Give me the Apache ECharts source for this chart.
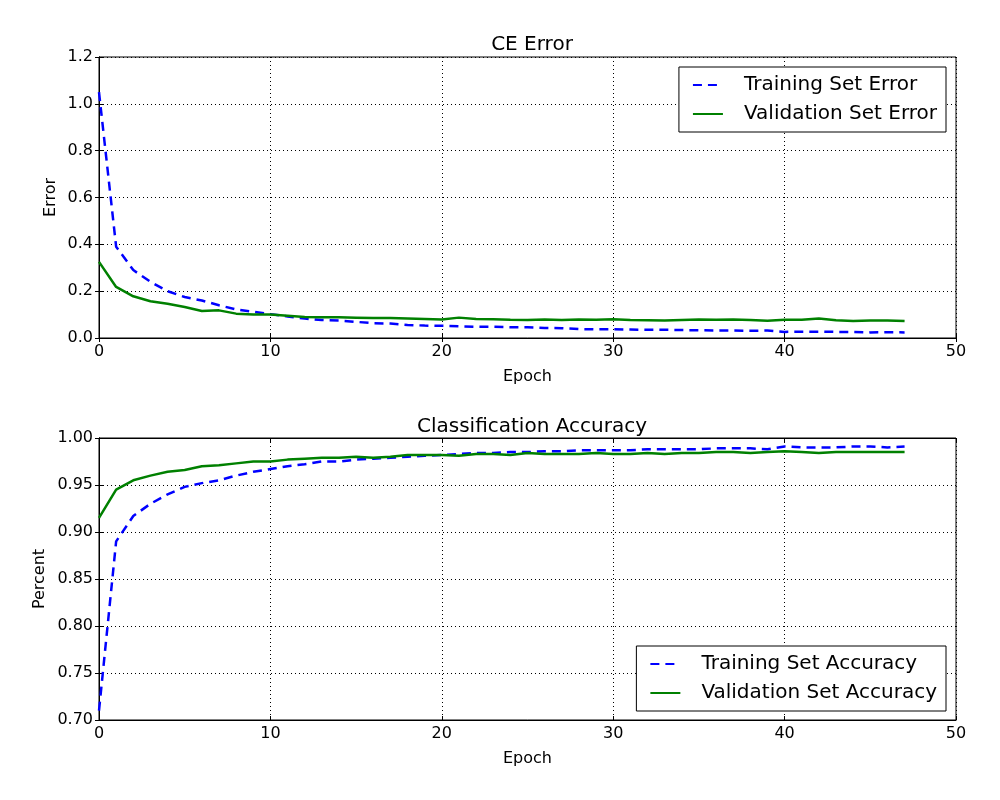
<!DOCTYPE html>
<html>
<head>
<meta charset="utf-8">
<script src="https://cdn.jsdelivr.net/npm/echarts@6/dist/echarts.min.js"></script>
<style>
  html, body { margin: 0; padding: 0; background: #fff; }
  #container { width: 1000px; height: 800px; }
</style>
</head>
<body>
<div id="container"></div>
<script>
// data, one value per epoch (0..47)
var trainError = [
    1.05, 0.39, 0.29, 0.24, 0.20, 0.175, 0.16, 0.14, 0.122, 0.112,
    0.102, 0.092, 0.083, 0.077, 0.075, 0.069, 0.063, 0.062, 0.056, 0.053,
    0.052, 0.050, 0.048, 0.048, 0.046, 0.046, 0.043, 0.042, 0.038, 0.037,
    0.037, 0.036, 0.035, 0.035, 0.034, 0.033, 0.032, 0.032, 0.031, 0.032,
    0.026, 0.027, 0.027, 0.026, 0.026, 0.024, 0.025, 0.024
];
var validError = [
    0.325, 0.218, 0.178, 0.157, 0.146, 0.132, 0.115, 0.118, 0.104, 0.100,
    0.100, 0.095, 0.090, 0.089, 0.089, 0.087, 0.085, 0.085, 0.083, 0.081,
    0.079, 0.087, 0.081, 0.080, 0.078, 0.077, 0.079, 0.077, 0.079, 0.078,
    0.080, 0.077, 0.076, 0.075, 0.077, 0.079, 0.078, 0.079, 0.077, 0.074,
    0.078, 0.078, 0.083, 0.076, 0.073, 0.075, 0.075, 0.073
];
var trainAcc = [
    0.71, 0.89, 0.917, 0.930, 0.940, 0.948, 0.952, 0.955, 0.960, 0.964,
    0.967, 0.970, 0.972, 0.975, 0.975, 0.977, 0.978, 0.979, 0.980, 0.981,
    0.982, 0.983, 0.984, 0.984, 0.985, 0.985, 0.986, 0.986, 0.987, 0.987,
    0.987, 0.987, 0.988, 0.988, 0.988, 0.988, 0.989, 0.989, 0.989, 0.988,
    0.991, 0.990, 0.990, 0.990, 0.991, 0.991, 0.990, 0.991
];
var validAcc = [
    0.915, 0.945, 0.955, 0.960, 0.964, 0.966, 0.970, 0.971, 0.973, 0.975,
    0.975, 0.977, 0.978, 0.979, 0.979, 0.980, 0.979, 0.980, 0.982, 0.982,
    0.982, 0.981, 0.983, 0.983, 0.982, 0.984, 0.983, 0.983, 0.983, 0.984,
    0.983, 0.983, 0.984, 0.983, 0.984, 0.984, 0.985, 0.985, 0.984, 0.985,
    0.986, 0.985, 0.984, 0.985, 0.985, 0.985, 0.985, 0.985
];

var FONT = 'DejaVu Sans';
var BLUE = '#0000ff';
var GREEN = '#008000';

function pairs(arr) {
    var res = [];
    for (var i = 0; i < arr.length; i++) res.push([i, arr[i]]);
    return res;
}

var chart = echarts.init(document.getElementById('container'));

// x axes: bottom one with labels, top one just for the ticks
function xAxes(gridIndex) {
    return [{
        type: 'value', gridIndex: gridIndex, min: 0, max: 50, interval: 10,
        name: 'Epoch', nameLocation: 'middle', nameGap: 31,
        nameTextStyle: { fontFamily: FONT, fontSize: 16, color: '#000' },
        axisLine: { show: true, lineStyle: { color: '#000' } },
        axisTick: { inside: true, length: 4, lineStyle: { color: '#000' } },
        axisLabel: { fontFamily: FONT, fontSize: 16, color: '#000', margin: 6 },
        splitLine: { show: true, lineStyle: { color: '#000', type: [1, 3], width: 1 } }
    }, {
        type: 'value', gridIndex: gridIndex, position: 'top', min: 0, max: 50, interval: 10,
        axisLine: { show: true, lineStyle: { color: '#000' } },
        axisTick: { inside: true, length: 4, lineStyle: { color: '#000' } },
        axisLabel: { show: false },
        splitLine: { show: false }
    }];
}

function yAxes(gridIndex, name, min, max, interval, digits, gap) {
    return [{
        type: 'value', gridIndex: gridIndex, min: min, max: max, interval: interval,
        name: name, nameLocation: 'middle', nameGap: gap, nameRotate: 90,
        nameMoveOverlap: false,
        nameTextStyle: { fontFamily: FONT, fontSize: 16, color: '#000' },
        axisLine: { show: true, lineStyle: { color: '#000' } },
        axisTick: { inside: true, length: 4, lineStyle: { color: '#000' } },
        axisLabel: {
            fontFamily: FONT, fontSize: 16, color: '#000', margin: 6,
            formatter: function (v) { return v.toFixed(digits); }
        },
        splitLine: { show: true, lineStyle: { color: '#000', type: [1, 3], width: 1 } }
    }, {
        type: 'value', gridIndex: gridIndex, position: 'right', min: min, max: max, interval: interval,
        axisLine: { show: true, lineStyle: { color: '#000' } },
        axisTick: { inside: true, length: 4, lineStyle: { color: '#000' } },
        axisLabel: { show: false },
        splitLine: { show: false }
    }];
}

function legendBox(names, pos) {
    var l = {
        orient: 'vertical',
        data: names,
        itemWidth: 30,
        itemHeight: 14,
        itemGap: 9,
        padding: [8, 9, 8, 13],
        borderColor: '#000',
        borderWidth: 1,
        borderRadius: 0,
        backgroundColor: '#fff',
        itemStyle: { opacity: 0 },
        textStyle: { fontFamily: FONT, fontSize: 20, color: '#000', padding: [0, 0, 0, 16] },
        selectedMode: false
    };
    for (var k in pos) l[k] = pos[k];
    return l;
}

function lineSeries(name, arr, xi, yi, color, dashed) {
    return {
        name: name, type: 'line', xAxisIndex: xi, yAxisIndex: yi,
        data: pairs(arr), symbol: 'none', showSymbol: false,
        lineStyle: { color: color, width: 2.5, type: dashed ? [9, 6] : 'solid' },
        itemStyle: { color: color },
        animation: false
    };
}

var titleStyle = { fontFamily: FONT, fontSize: 20, fontWeight: 'normal', color: '#000' };

var option = {
    backgroundColor: '#fff',
    title: [
        { text: 'CE Error', left: 527, top: 30, textAlign: 'center', textStyle: titleStyle },
        { text: 'Classification Accuracy', left: 527, top: 412, textAlign: 'center', textStyle: titleStyle }
    ],
    grid: [
        { left: 99, right: 44, top: 57, height: 281, show: true, borderColor: '#000', borderWidth: 1 },
        { left: 99, right: 44, top: 438, height: 282, show: true, borderColor: '#000', borderWidth: 1 }
    ],
    legend: [
        legendBox(['Training Set Error', 'Validation Set Error'], { right: 54, top: 67 }),
        legendBox(['Training Set Accuracy', 'Validation Set Accuracy'], { right: 54, top: 646 })
    ],
    xAxis: xAxes(0).concat(xAxes(1)),
    yAxis: yAxes(0, 'Error', 0, 1.2, 0.2, 1, 40).concat(yAxes(1, 'Percent', 0.7, 1.0, 0.05, 2, 51)),
    series: [
        lineSeries('Training Set Error', trainError, 0, 0, BLUE, true),
        lineSeries('Validation Set Error', validError, 0, 0, GREEN, false),
        lineSeries('Training Set Accuracy', trainAcc, 2, 2, BLUE, true),
        lineSeries('Validation Set Accuracy', validAcc, 2, 2, GREEN, false)
    ]
};

chart.setOption(option);
</script>
</body>
</html>
